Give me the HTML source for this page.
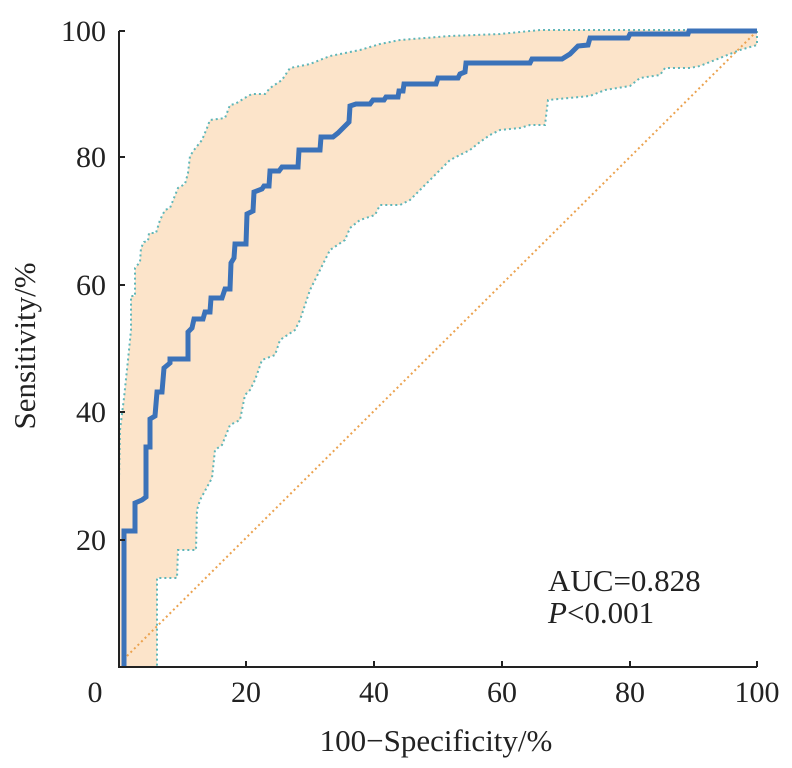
<!DOCTYPE html>
<html><head><meta charset="utf-8"><style>
body{margin:0;background:#fff;}
svg{display:block;font-family:"Liberation Serif",serif;}
</style></head><body>
<svg width="792" height="768" viewBox="0 0 792 768">
<polygon fill="#fce4ca" stroke="#5fb6b8" stroke-width="2" stroke-dasharray="2,3" points="119,480 120,430 124,398 128,360 131,330 131,296 135,296 135,268 140,262 141,248 144,242 148,241 149,233 156,233 160,220 165,210 170,208 178,188 185,184 188,173 190,156 194,150 202,140 207,128 210,120 225,118 230,105 235,104 248,96 252,94 265,94 270,88 282,80 290,68 310,64 330,56 360,50 380,44 400,40 450,36 500,34 540,30 600,30 640,30 700,30 757,30 757,45 740,50 720,58 700,66 690,68 665,68 660,75 640,78 630,86 605,90 590,96 548,100 545,125 530,125 520,128 500,130 490,135 480,142 470,150 460,155 450,160 440,170 430,180 420,190 410,200 400,205 380,205 375,215 360,220 350,228 345,240 330,250 320,270 310,290 300,320 295,330 280,340 275,355 262,360 255,380 250,390 245,395 240,420 230,425 222,445 215,450 212,478 200,500 197,510 196,550 178,550 177,578 157,578 157,667 119,667"/>
<line x1="127" y1="656" x2="757" y2="31" stroke="#eba24f" stroke-width="2" stroke-dasharray="2,3"/>
<polyline fill="none" stroke="#3b72b9" stroke-width="5" stroke-linejoin="miter" points="124,667 124,531 135,531 135,503 142,500 146,497 146,447 150,447 150,419 155,416 157,392 162,392 164,368 170,363 170,359 188,359 188,332 192,328 194,319 203,319 205,312 210,312 211,298 222,298 224,292 225,289 230,289 231,263 234,258 235,244 246,244 247,214 253,211 254,192 262,189 264,186 269,186 270,171 279,171 282,167 298,167 299,150 320,150 321,137 333,137 338,133 344,127 349,122 350,106 356,104 370,104 373,100 384,100 386,97 398,97 399,91 403,91 404,84 436,84 438,78 458,78 460,74 465,72 466,63 530,63 532,59 562,59 570,54 578,46 588,45 590,38 628,38 630,34 688,34 689,31 757,31"/>
<g stroke="#222" stroke-width="2" fill="none">
<polyline points="119,31 119,667 757,667"/>
<line x1="119" y1="31" x2="125" y2="31"/><line x1="119" y1="157" x2="125" y2="157"/><line x1="119" y1="285" x2="125" y2="285"/><line x1="119" y1="412" x2="125" y2="412"/><line x1="119" y1="540" x2="125" y2="540"/>
<line x1="246" y1="667" x2="246" y2="661"/><line x1="374" y1="667" x2="374" y2="661"/><line x1="502" y1="667" x2="502" y2="661"/><line x1="630" y1="667" x2="630" y2="661"/><line x1="757" y1="667" x2="757" y2="661"/>
</g>
<g font-size="30" fill="#222" text-anchor="end">
<text x="106" y="41">100</text><text x="106" y="167">80</text><text x="106" y="295">60</text><text x="106" y="422">40</text><text x="106" y="550">20</text>
</g>
<g font-size="30" fill="#222" text-anchor="middle">
<text x="95" y="702">0</text><text x="246" y="702">20</text><text x="374" y="702">40</text><text x="502" y="702">60</text><text x="630" y="702">80</text><text x="757" y="702">100</text>
<text x="436" y="751" font-size="31">100−Specificity/%</text>
<text transform="translate(35,346) rotate(-90)" font-size="31">Sensitivity/%</text>
</g>
<g font-size="31" fill="#222">
<text x="548" y="591">AUC=0.828</text>
<text x="548" y="623"><tspan font-style="italic">P</tspan>&lt;0.001</text>
</g>
</svg>
</body></html>
